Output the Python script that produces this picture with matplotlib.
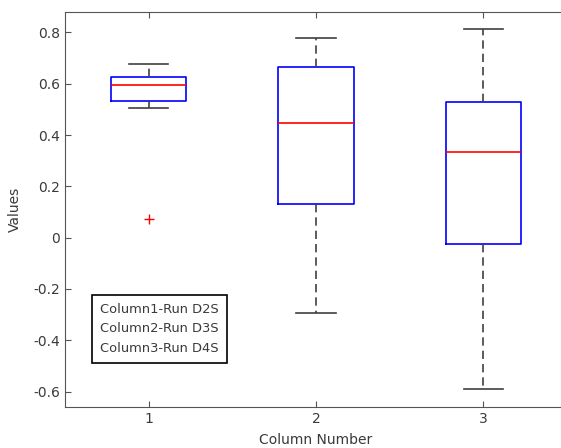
import matplotlib
matplotlib.use('Agg')
import matplotlib.pyplot as plt
from matplotlib.lines import Line2D

# values
columns = [1, 2, 3]
whisker_low = [0.506, -0.293, -0.591]
box_low = [0.531, 0.131, -0.026]
medians = [0.596, 0.445, 0.333]
box_high = [0.628, 0.666, 0.527]
whisker_high = [0.678, 0.777, 0.812]
outliers = [[0.071], [], []]
legend_labels = ['Column1-Run D2S', 'Column2-Run D3S', 'Column3-Run D4S']

text_color = '#3a3a3a'
plt.rcParams['font.family'] = 'DejaVu Sans'
plt.rcParams['font.size'] = 10

stats = []
for i in range(len(columns)):
    stats.append({
        'whislo': whisker_low[i], 'q1': box_low[i], 'med': medians[i],
        'q3': box_high[i], 'whishi': whisker_high[i], 'fliers': outliers[i],
    })

fig = plt.figure(figsize=(5.61, 4.48), dpi=100)
ax = fig.add_axes([0.116, 0.0915, 0.895, 0.882])

ax.bxp(stats, positions=columns, widths=0.45, capwidths=0.235,
       boxprops=dict(color='blue', linewidth=1.2),
       medianprops=dict(color='red', linewidth=1.2),
       whiskerprops=dict(color='#404040', linestyle=(0, (5, 3)), linewidth=1.2),
       capprops=dict(color='#404040', linewidth=1.2),
       flierprops=dict(marker='+', markeredgecolor='red', markersize=7,
                       linestyle='none'))

ax.set_xlim(0.5, 3.5)
ax.set_ylim(-0.66, 0.88)
ax.set_xticks(columns)
ax.set_xticklabels([str(c) for c in columns])
ax.set_yticks([-0.6, -0.4, -0.2, 0, 0.2, 0.4, 0.6, 0.8])
ax.set_yticklabels(['-0.6', '-0.4', '-0.2', '0', '0.2', '0.4', '0.6', '0.8'])
ax.tick_params(direction='in', top=True, right=False, length=4,
               colors='#555555', labelcolor=text_color)
for s in ax.spines.values():
    s.set_color('#555555')
ax.spines['right'].set_visible(False)  # cut off in the reference

ax.set_xlabel('Column Number', color=text_color, labelpad=5)
ax.set_ylabel('Values', color=text_color, labelpad=8)

handles = [Line2D([], [], linestyle='none') for _ in legend_labels]
leg = ax.legend(handles, legend_labels, loc='upper left',
                bbox_to_anchor=(0.054, 0.284), handlelength=0,
                handletextpad=0, fancybox=False, framealpha=1,
                borderpad=0.6, borderaxespad=0, labelspacing=0.5,
                labelcolor=text_color, fontsize=9.4)
leg.get_frame().set_edgecolor('black')
leg.get_frame().set_linewidth(1.2)

fig.savefig('out.png', dpi=100)
